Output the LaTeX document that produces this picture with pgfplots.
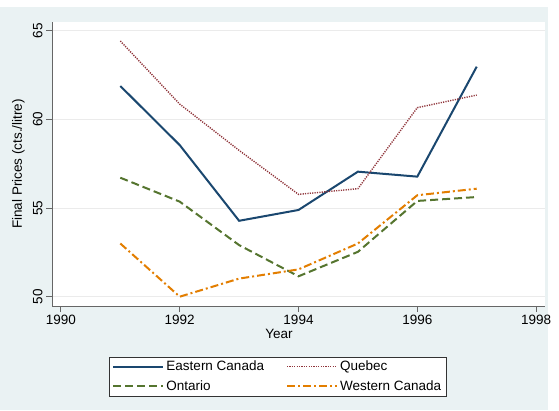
\documentclass[border=0pt]{standalone}
\usepackage{pgfplots}
\pgfplotsset{compat=1.18}
\usepackage{fontspec}
\setmainfont{Liberation Sans}
\definecolor{bg}{RGB}{234,242,243}
\definecolor{sNavy}{RGB}{26,71,111}
\definecolor{sMaroon}{RGB}{144,53,59}
\definecolor{sGreen}{RGB}{85,117,47}
\definecolor{sOrange}{RGB}{227,126,0}
\begin{document}
\begin{tikzpicture}
\fill[white] (0pt,0pt) rectangle (559pt,410pt);
\fill[bg] (0pt,0pt) rectangle (548pt,403pt);
\begin{axis}[
  at={(52pt,104pt)}, anchor=south west,
  scale only axis, width=493pt, height=284pt,
  xmin=1989.85, xmax=1998.15, ymin=49.475, ymax=65.49,
  axis background/.style={fill=white},
  axis x line*=bottom, axis y line*=left,
  axis line style={black!60, line width=1pt},
  tick align=outside, major tick length=6pt,
  tick style={black!60, line width=1pt},
  xtick={1990,1992,1994,1996,1998},
  ytick={50,55,60,65},
  ymajorgrids, grid style={black!8, line width=0.8pt},
  /pgf/number format/.cd, 1000 sep={}, assume math mode=true, /pgfplots/.cd,
  tick label style={font=\fontsize{13.5}{16}\selectfont},
  yticklabel style={rotate=90, anchor=south},
  xlabel={Year}, ylabel={Final Prices (cts./litre)},
  label style={font=\fontsize{13.5}{16}\selectfont},
  xlabel style={at={(axis description cs:0.4604,-0.097)}, anchor=center},
  ylabel style={at={(axis description cs:-0.068,0.5)}, anchor=center},
  legend columns=2,
  legend cell align=left,
  legend image code/.code={\draw[#1] (0pt,0pt) -- (50pt,0pt);},
  legend style={at={(0.458,-0.178)}, anchor=north, draw=black!80, fill=white,
    font=\fontsize{13.5}{16}\selectfont, line width=0.8pt,
    /tikz/every even column/.append style={column sep=20pt},
    row sep=4.5pt, inner xsep=3pt, inner ysep=2pt},
]
\addplot[sNavy, line width=2pt] coordinates {
(1991,61.88) (1992,58.55) (1993,54.28) (1994,54.89) (1995,57.05) (1996,56.77) (1997,62.97)};
\addlegendentry{Eastern Canada}
\addplot[sMaroon, line width=1.4pt, dash pattern=on 1.2pt off 1.2pt] coordinates {
(1991,64.42) (1992,60.86) (1993,58.25) (1994,55.77) (1995,56.09) (1996,60.66) (1997,61.37)};
\addlegendentry{Quebec}
\addplot[sGreen, line width=2pt, dash pattern=on 8pt off 4pt] coordinates {
(1991,56.71) (1992,55.36) (1993,52.91) (1994,51.15) (1995,52.53) (1996,55.40) (1997,55.62)};
\addlegendentry{Ontario}
\addplot[sOrange, line width=2pt, dash pattern=on 8pt off 3pt on 2pt off 3pt] coordinates {
(1991,53.00) (1992,50.00) (1993,51.02) (1994,51.54) (1995,53.00) (1996,55.72) (1997,56.09)};
\addlegendentry{Western Canada}
\end{axis}
\end{tikzpicture}
\end{document}
